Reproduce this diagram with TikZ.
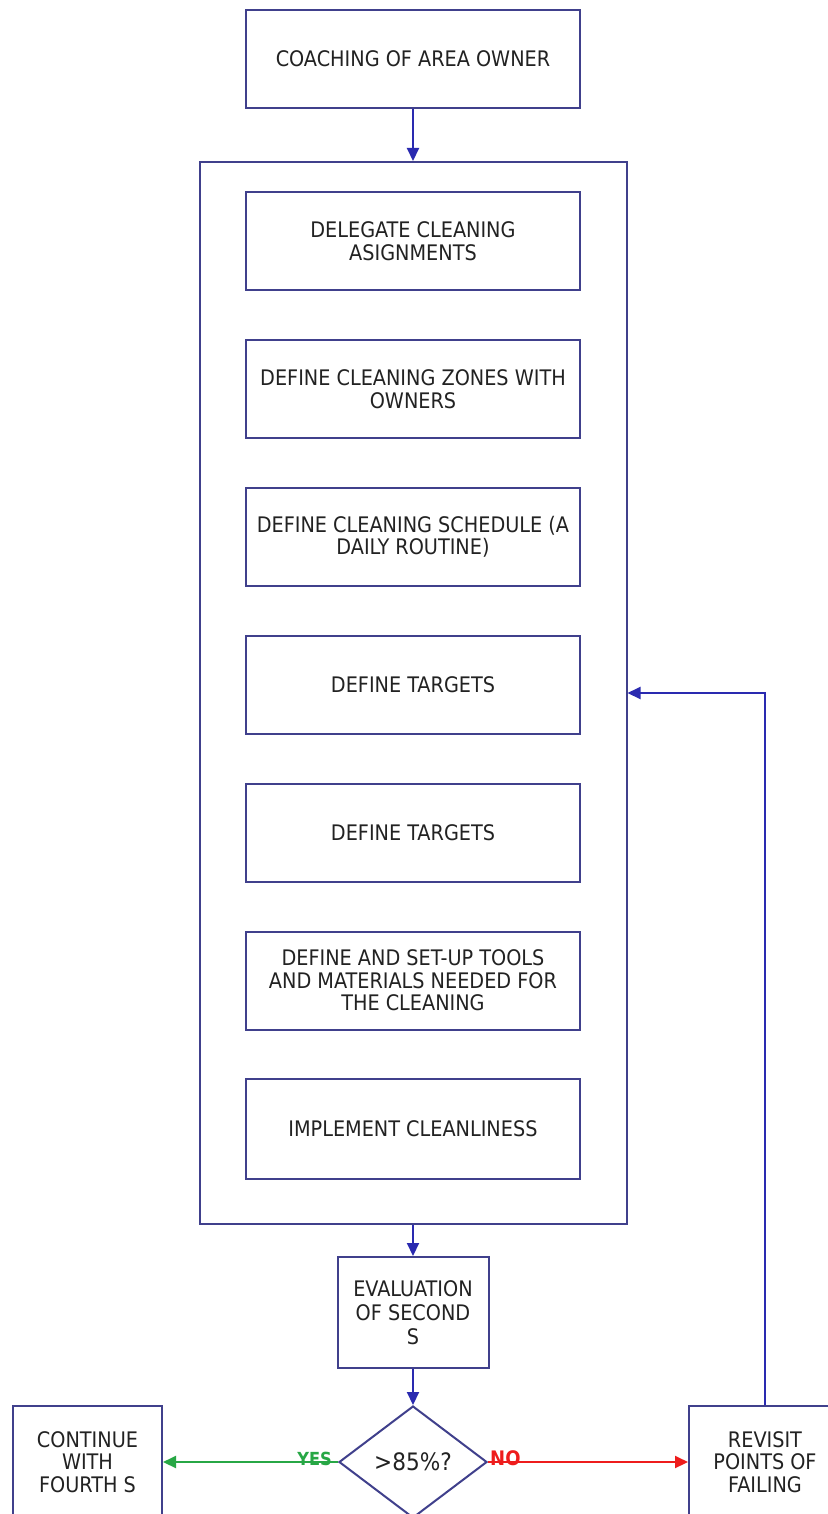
\documentclass[tikz,border=0pt]{standalone}
\usepackage{fontspec}
\setmainfont{DejaVu Sans Condensed}
\usetikzlibrary{arrows.meta,shapes.geometric}
\definecolor{frame}{HTML}{40408C}
\definecolor{tip}{HTML}{2A2AB0}
\definecolor{yesgreen}{HTML}{27A745}
\definecolor{nored}{HTML}{EE1C1C}
\definecolor{ink}{HTML}{222222}
\tikzset{
  box/.style={draw=frame, line width=2pt, fill=white, align=center, text=ink,
    font=\fontsize{21.4}{22.5}\selectfont, inner sep=0pt},
  stepbox/.style={box, minimum width=334pt, minimum height=98pt},
  flow/.style={draw=frame, line width=2pt, -{Triangle[length=13pt,width=12pt]}, color=tip},
  answer/.style={font=\fontsize{18}{18}\selectfont\bfseries, inner sep=0pt},
}
\begin{document}
\begin{tikzpicture}[x=1pt,y=-1pt]
\useasboundingbox (0,0) rectangle (827,1514);
\fill[white] (0,0) rectangle (827,1514);
% outer container holding the cleaning steps
\node[box, minimum width=427pt, minimum height=1062pt] (cont) at (413,693) {};
% process boxes
\node[stepbox] (coach) at (413,59) {COACHING OF AREA OWNER};
\node[stepbox] (b1) at (413,241) {DELEGATE CLEANING\\ASIGNMENTS};
\node[stepbox] (b2) at (413,389) {DEFINE CLEANING ZONES WITH\\OWNERS};
\node[stepbox] (b3) at (413,537) {DEFINE CLEANING SCHEDULE (A\\DAILY ROUTINE)};
\node[stepbox] (b4) at (413,685) {DEFINE TARGETS};
\node[stepbox] (b5) at (413,832.5) {DEFINE TARGETS};
\node[stepbox] (b6) at (413,980.5) {DEFINE AND SET-UP TOOLS\\AND MATERIALS NEEDED FOR\\THE CLEANING};
\node[stepbox, minimum height=100pt] (b7) at (413,1128.5) {IMPLEMENT CLEANLINESS};
\node[box, minimum width=151pt, minimum height=111pt, font=\fontsize{21.4}{24}\selectfont] (eval) at (413,1312.5) {EVALUATION\\OF SECOND\\S};
\node[box, diamond, aspect=1.32, minimum width=148pt, minimum height=112pt, font=\fontsize{24}{24}\selectfont] (dec) at (413,1462) {>85\%?};
\node[box, minimum width=149pt, minimum height=112pt] (cont4) at (87.5,1462) {CONTINUE\\WITH\\FOURTH S};
\node[box, minimum width=152pt, minimum height=112pt] (rev) at (765,1462) {REVISIT\\POINTS OF\\FAILING};
% connectors
\draw[flow] (coach.south) -- (cont.north);
\draw[flow] (cont.south) -- (eval.north);
\draw[flow] (eval.south) -- (dec.north);
\draw[line width=2pt, color=yesgreen, -{Triangle[length=13pt,width=12pt]}] (dec.west) -- (cont4.east);
\draw[line width=2pt, color=nored, -{Triangle[length=13pt,width=12pt]}] (dec.east) -- (rev.west);
\node[answer, text=yesgreen, anchor=south east] (yes) at ([xshift=-6pt,yshift=-4pt]dec.west) {YES};
\node[answer, text=nored, anchor=south west, font=\fontsize{20}{20}\selectfont\bfseries] (no) at ([xshift=2pt,yshift=-4pt]dec.east) {NO};
\draw[flow] (rev.north) |- (cont.east);
\end{tikzpicture}
\end{document}
